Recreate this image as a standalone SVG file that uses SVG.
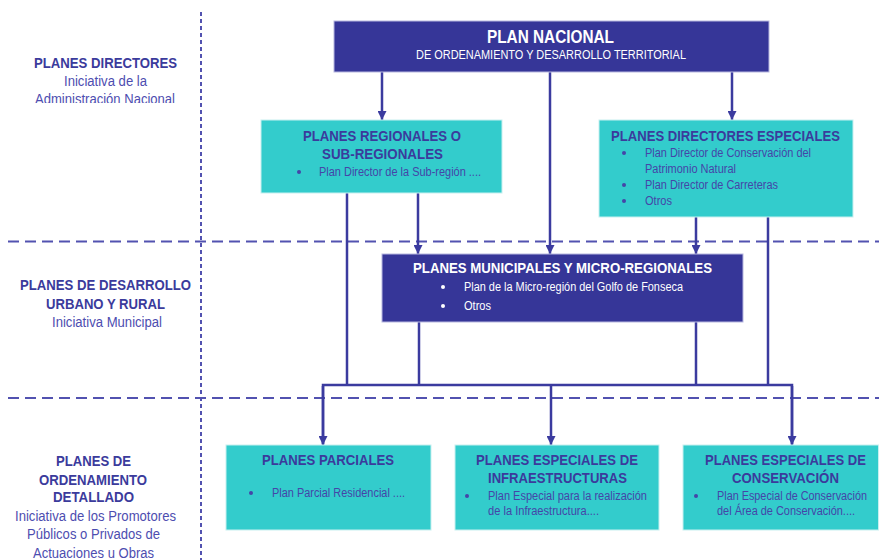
<svg xmlns="http://www.w3.org/2000/svg" width="879" height="560" viewBox="0 0 879 560">
<style>
text{font-family:"Liberation Sans",Arial,sans-serif;}
.lb{font-weight:bold;font-size:15px;fill:#3b3b9c;}
.ls{font-size:14px;fill:#4d4db0;}
.tb{font-weight:bold;font-size:15px;fill:#3b3b9c;}
.tw{font-weight:bold;font-size:15px;fill:#ffffff;}
.it{font-size:12.5px;fill:#4545a8;}
.iw{font-size:12.5px;fill:#ffffff;}
.cy{fill:#33cccc;stroke:#c8f0f0;stroke-width:1;}
.db{fill:#363698;stroke:#b8b8e0;stroke-width:1;}
.con{stroke:#3b3b9f;stroke-width:2.5;fill:none;}
.dash{stroke:#5252b0;stroke-width:2;fill:none;}
.bl{fill:#4545a8;}
.bw{fill:#ffffff;}
</style>
<defs>
<marker id="ah" viewBox="0 0 10 10" refX="10" refY="5" markerWidth="9" markerHeight="9" markerUnits="userSpaceOnUse" orient="auto">
<path d="M0,0 L10,5 L0,10 z" fill="#3b3b9f"/>
</marker>
<clipPath id="clipA"><rect x="0" y="0" width="200" height="103"/></clipPath>
</defs>
<rect width="879" height="560" fill="#ffffff"/>

<g id="guides">
<line class="dash" x1="201" y1="12" x2="201" y2="560" stroke-dasharray="4 3"/>
<line class="dash" x1="8" y1="241.5" x2="879" y2="241.5" stroke-dasharray="11 6"/>
<line class="dash" x1="8" y1="398" x2="879" y2="398" stroke-dasharray="11 6"/>
</g>

<g id="label-directores">
<text class="lb" x="34" y="68" textLength="143" lengthAdjust="spacingAndGlyphs">PLANES DIRECTORES</text>
<text class="ls" x="64" y="86" textLength="83" lengthAdjust="spacingAndGlyphs">Iniciativa de la</text>
<text class="ls" x="35" y="104" textLength="140" lengthAdjust="spacingAndGlyphs" clip-path="url(#clipA)">Administración Nacional</text>
</g>

<g id="label-desarrollo">
<text class="lb" x="20" y="290" textLength="171" lengthAdjust="spacingAndGlyphs">PLANES DE DESARROLLO</text>
<text class="lb" x="46" y="309" textLength="119" lengthAdjust="spacingAndGlyphs">URBANO Y RURAL</text>
<text class="ls" x="52" y="327" textLength="110" lengthAdjust="spacingAndGlyphs">Iniciativa Municipal</text>
</g>

<g id="label-detallado">
<text class="lb" x="56" y="466" textLength="75" lengthAdjust="spacingAndGlyphs">PLANES DE</text>
<text class="lb" x="39" y="485" textLength="108" lengthAdjust="spacingAndGlyphs">ORDENAMIENTO</text>
<text class="lb" x="53" y="502" textLength="81" lengthAdjust="spacingAndGlyphs">DETALLADO</text>
<text class="ls" x="15" y="521" textLength="161" lengthAdjust="spacingAndGlyphs">Iniciativa de los Promotores</text>
<text class="ls" x="27" y="539" textLength="133" lengthAdjust="spacingAndGlyphs">Públicos o Privados de</text>
<text class="ls" x="33" y="558" textLength="121" lengthAdjust="spacingAndGlyphs">Actuaciones u Obras</text>
</g>

<g id="connectors">
<line class="con" x1="382" y1="72" x2="382" y2="120" marker-end="url(#ah)"/>
<line class="con" x1="550" y1="72" x2="550" y2="254" marker-end="url(#ah)"/>
<line class="con" x1="732" y1="72" x2="732" y2="120" marker-end="url(#ah)"/>
<line class="con" x1="418" y1="193" x2="418" y2="254" marker-end="url(#ah)"/>
<line class="con" x1="696" y1="217" x2="696" y2="254" marker-end="url(#ah)"/>
<line class="con" x1="347" y1="193" x2="347" y2="385"/>
<line class="con" x1="768" y1="217" x2="768" y2="385"/>
<line class="con" x1="419" y1="322" x2="419" y2="385"/>
<line class="con" x1="696" y1="322" x2="696" y2="385"/>
<path class="con" d="M323,444 V385 H792 V444"/>
<line class="con" x1="323" y1="386" x2="323" y2="445" marker-end="url(#ah)"/>
<line class="con" x1="551" y1="385" x2="551" y2="445" marker-end="url(#ah)"/>
<line class="con" x1="792" y1="386" x2="792" y2="445" marker-end="url(#ah)"/>
</g>

<g id="plan-nacional">
<rect class="db" x="334" y="21" width="435" height="51"/>
<text x="487" y="43" font-weight="bold" font-size="17.5" fill="#ffffff" textLength="127" lengthAdjust="spacingAndGlyphs">PLAN NACIONAL</text>
<text x="416" y="59" font-size="12.5" fill="#ffffff" textLength="270" lengthAdjust="spacingAndGlyphs">DE ORDENAMIENTO Y DESARROLLO TERRITORIAL</text>
</g>

<g id="planes-regionales">
<rect class="cy" x="261" y="120" width="241" height="73"/>
<text class="tb" x="303" y="141" textLength="158" lengthAdjust="spacingAndGlyphs">PLANES REGIONALES O</text>
<text class="tb" x="322" y="159" textLength="121" lengthAdjust="spacingAndGlyphs">SUB-REGIONALES</text>
<circle class="bl" cx="299" cy="172" r="2"/>
<text class="it" x="319" y="176" textLength="162" lengthAdjust="spacingAndGlyphs">Plan Director de la Sub-región ....</text>
</g>

<g id="planes-directores-especiales">
<rect class="cy" x="599" y="120" width="254" height="97"/>
<text class="tb" x="611" y="141" textLength="229" lengthAdjust="spacingAndGlyphs">PLANES DIRECTORES ESPECIALES</text>
<circle class="bl" cx="624" cy="153" r="2"/>
<text class="it" x="645" y="157" textLength="166" lengthAdjust="spacingAndGlyphs">Plan Director de Conservación del</text>
<text class="it" x="645" y="173" textLength="91" lengthAdjust="spacingAndGlyphs">Patrimonio Natural</text>
<circle class="bl" cx="624" cy="185" r="2"/>
<text class="it" x="645" y="189" textLength="133" lengthAdjust="spacingAndGlyphs">Plan Director de Carreteras</text>
<circle class="bl" cx="624" cy="201" r="2"/>
<text class="it" x="645" y="205" textLength="27" lengthAdjust="spacingAndGlyphs">Otros</text>
</g>

<g id="planes-municipales">
<rect class="db" x="382" y="254" width="361" height="68"/>
<text class="tw" x="413" y="273" textLength="299" lengthAdjust="spacingAndGlyphs">PLANES MUNICIPALES Y MICRO-REGIONALES</text>
<circle class="bw" cx="443" cy="287" r="2"/>
<text class="iw" x="464" y="291" textLength="219" lengthAdjust="spacingAndGlyphs">Plan de la Micro-región del Golfo de Fonseca</text>
<circle class="bw" cx="443" cy="306" r="2"/>
<text class="iw" x="464" y="310" textLength="27" lengthAdjust="spacingAndGlyphs">Otros</text>
</g>

<g id="planes-parciales">
<rect class="cy" x="226" y="445" width="205" height="85"/>
<text class="tb" x="262" y="465" textLength="132" lengthAdjust="spacingAndGlyphs">PLANES PARCIALES</text>
<circle class="bl" cx="251" cy="493" r="2"/>
<text class="it" x="272" y="497" textLength="133" lengthAdjust="spacingAndGlyphs">Plan Parcial Residencial ....</text>
</g>

<g id="planes-infraestructuras">
<rect class="cy" x="455" y="445" width="204" height="85"/>
<text class="tb" x="476" y="465" textLength="162" lengthAdjust="spacingAndGlyphs">PLANES ESPECIALES DE</text>
<text class="tb" x="488" y="483" textLength="139" lengthAdjust="spacingAndGlyphs">INFRAESTRUCTURAS</text>
<circle class="bl" cx="467" cy="496" r="2"/>
<text class="it" x="488" y="500" textLength="159" lengthAdjust="spacingAndGlyphs">Plan Especial para la realización</text>
<text class="it" x="488" y="515" textLength="111" lengthAdjust="spacingAndGlyphs">de la Infraestructura....</text>
</g>

<g id="planes-conservacion">
<rect class="cy" x="683" y="445" width="195.5" height="85"/>
<text class="tb" x="705" y="465" textLength="161" lengthAdjust="spacingAndGlyphs">PLANES ESPECIALES DE</text>
<text class="tb" x="732" y="483" textLength="107" lengthAdjust="spacingAndGlyphs">CONSERVACIÓN</text>
<circle class="bl" cx="696" cy="496" r="2"/>
<text class="it" x="717" y="500" textLength="150" lengthAdjust="spacingAndGlyphs">Plan Especial de Conservación</text>
<text class="it" x="717" y="515" textLength="138" lengthAdjust="spacingAndGlyphs">del Área de Conservación....</text>
</g>
</svg>
